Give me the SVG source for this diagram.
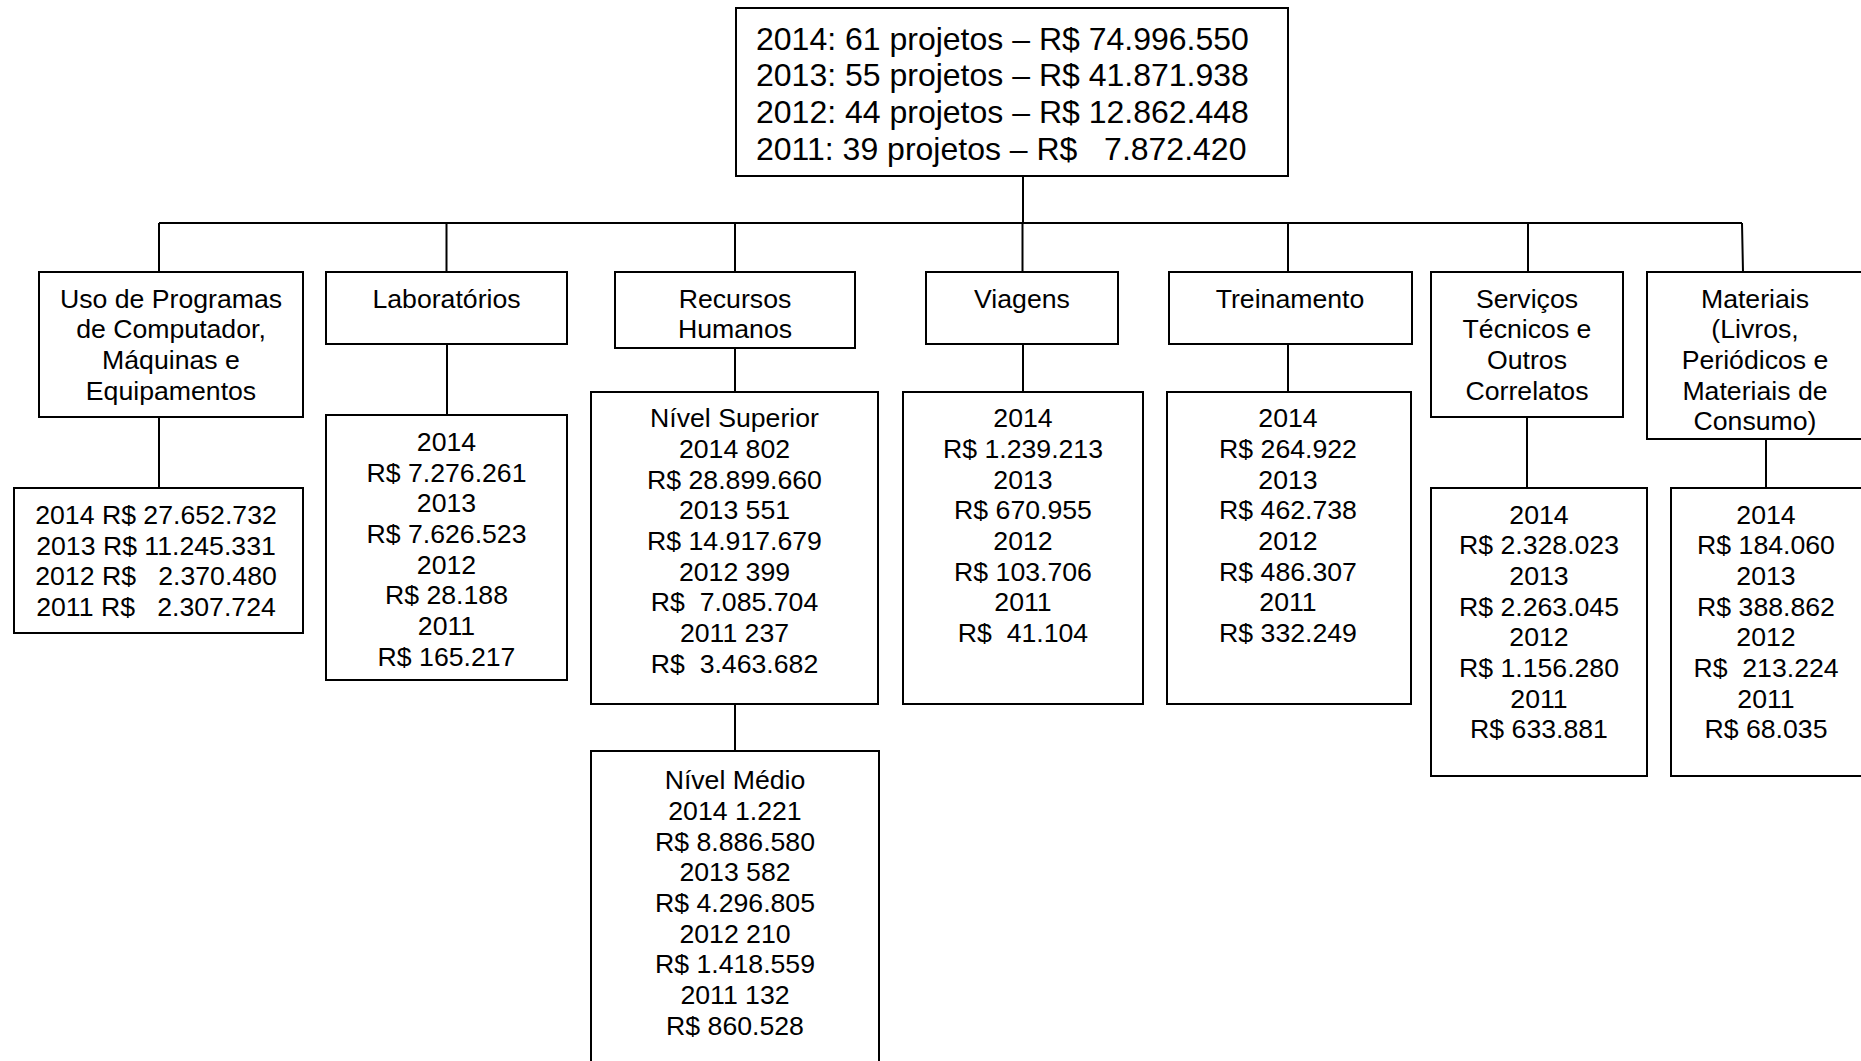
<svg xmlns="http://www.w3.org/2000/svg" width="1861" height="1061" viewBox="0 0 1861 1061">
<style>
.box{fill:#fff;stroke:#000;stroke-width:2}
.ln{stroke:#000;stroke-width:2;fill:none}
text{font-family:"Liberation Sans",Arial,sans-serif;fill:#000;white-space:pre}
.t{font-size:32px}
.s{font-size:26.67px;text-anchor:middle}
</style>
<rect width="1861" height="1061" fill="#fff"/>
<g id="connectors">
<path class="ln" d="M1023 176V223M159 223H1742M159 223V272M446.5 223V272M735 223V272M1022.5 223V272M1288 223V272M1528 223V272M1742 223L1743 272"/>
<path class="ln" d="M159 417V488M447 344V415M735 348V392M1023 344V392M1288 344V392M1527 417V488M1766 439V488M735 704V751"/>
</g>
<g id="root">
<rect class="box" x="736" y="8" width="552" height="168"/>
<text class="t" x="756" y="49.5">2014: 61 projetos – R$ 74.996.550</text>
<text class="t" x="756" y="86.3">2013: 55 projetos – R$ 41.871.938</text>
<text class="t" x="756" y="123.1">2012: 44 projetos – R$ 12.862.448</text>
<text class="t" x="756" y="159.9">2011: 39 projetos – R$   7.872.420</text>
</g>
<g id="uso">
<rect class="box" x="39" y="272" width="264" height="145"/>
<text class="s" x="171" y="307.5">Uso de Programas</text>
<text class="s" x="171" y="338.2">de Computador,</text>
<text class="s" x="171" y="368.8">Máquinas e</text>
<text class="s" x="171" y="399.5">Equipamentos</text>
</g>
<g id="uso-dados">
<rect class="box" x="14" y="488" width="289" height="145"/>
<text class="s" x="156" y="524">2014 R$ 27.652.732</text>
<text class="s" x="156" y="554.7">2013 R$ 11.245.331</text>
<text class="s" x="156" y="585.3">2012 R$   2.370.480</text>
<text class="s" x="156" y="616">2011 R$   2.307.724</text>
</g>
<g id="laboratorios">
<rect class="box" x="326" y="272" width="241" height="72"/>
<text class="s" x="446.5" y="307.5">Laboratórios</text>
</g>
<g id="laboratorios-dados">
<rect class="box" x="326" y="415" width="241" height="265"/>
<text class="s" x="446.5" y="451">2014</text>
<text class="s" x="446.5" y="481.7">R$ 7.276.261</text>
<text class="s" x="446.5" y="512.3">2013</text>
<text class="s" x="446.5" y="543">R$ 7.626.523</text>
<text class="s" x="446.5" y="573.7">2012</text>
<text class="s" x="446.5" y="604.3">R$ 28.188</text>
<text class="s" x="446.5" y="635">2011</text>
<text class="s" x="446.5" y="665.7">R$ 165.217</text>
</g>
<g id="recursos">
<rect class="box" x="615" y="272" width="240" height="76"/>
<text class="s" x="735" y="307.5">Recursos</text>
<text class="s" x="735" y="338.2">Humanos</text>
</g>
<g id="nivel-superior">
<rect class="box" x="591" y="392" width="287" height="312"/>
<text class="s" x="734.5" y="427.3">Nível Superior</text>
<text class="s" x="734.5" y="458">2014 802</text>
<text class="s" x="734.5" y="488.6">R$ 28.899.660</text>
<text class="s" x="734.5" y="519.3">2013 551</text>
<text class="s" x="734.5" y="550">R$ 14.917.679</text>
<text class="s" x="734.5" y="580.6">2012 399</text>
<text class="s" x="734.5" y="611.3">R$  7.085.704</text>
<text class="s" x="734.5" y="642">2011 237</text>
<text class="s" x="734.5" y="672.6">R$  3.463.682</text>
</g>
<g id="nivel-medio">
<rect class="box" x="591" y="751" width="288" height="320"/>
<text class="s" x="735" y="789.3">Nível Médio</text>
<text class="s" x="735" y="820">2014 1.221</text>
<text class="s" x="735" y="850.6">R$ 8.886.580</text>
<text class="s" x="735" y="881.3">2013 582</text>
<text class="s" x="735" y="912">R$ 4.296.805</text>
<text class="s" x="735" y="942.6">2012 210</text>
<text class="s" x="735" y="973.3">R$ 1.418.559</text>
<text class="s" x="735" y="1004">2011 132</text>
<text class="s" x="735" y="1034.6">R$ 860.528</text>
</g>
<g id="viagens">
<rect class="box" x="926" y="272" width="192" height="72"/>
<text class="s" x="1022" y="307.5">Viagens</text>
</g>
<g id="viagens-dados">
<rect class="box" x="903" y="392" width="240" height="312"/>
<text class="s" x="1023" y="427.3">2014</text>
<text class="s" x="1023" y="458">R$ 1.239.213</text>
<text class="s" x="1023" y="488.6">2013</text>
<text class="s" x="1023" y="519.3">R$ 670.955</text>
<text class="s" x="1023" y="550">2012</text>
<text class="s" x="1023" y="580.6">R$ 103.706</text>
<text class="s" x="1023" y="611.3">2011</text>
<text class="s" x="1023" y="642">R$  41.104</text>
</g>
<g id="treinamento">
<rect class="box" x="1169" y="272" width="243" height="72"/>
<text class="s" x="1290" y="307.5">Treinamento</text>
</g>
<g id="treinamento-dados">
<rect class="box" x="1167" y="392" width="244" height="312"/>
<text class="s" x="1288" y="427.3">2014</text>
<text class="s" x="1288" y="458">R$ 264.922</text>
<text class="s" x="1288" y="488.6">2013</text>
<text class="s" x="1288" y="519.3">R$ 462.738</text>
<text class="s" x="1288" y="550">2012</text>
<text class="s" x="1288" y="580.6">R$ 486.307</text>
<text class="s" x="1288" y="611.3">2011</text>
<text class="s" x="1288" y="642">R$ 332.249</text>
</g>
<g id="servicos">
<rect class="box" x="1431" y="272" width="192" height="145"/>
<text class="s" x="1527" y="307.5">Serviços</text>
<text class="s" x="1527" y="338.2">Técnicos e</text>
<text class="s" x="1527" y="368.8">Outros</text>
<text class="s" x="1527" y="399.5">Correlatos</text>
</g>
<g id="servicos-dados">
<rect class="box" x="1431" y="488" width="216" height="288"/>
<text class="s" x="1539" y="523.5">2014</text>
<text class="s" x="1539" y="554.2">R$ 2.328.023</text>
<text class="s" x="1539" y="584.8">2013</text>
<text class="s" x="1539" y="615.5">R$ 2.263.045</text>
<text class="s" x="1539" y="646.2">2012</text>
<text class="s" x="1539" y="676.8">R$ 1.156.280</text>
<text class="s" x="1539" y="707.5">2011</text>
<text class="s" x="1539" y="738.2">R$ 633.881</text>
</g>
<g id="materiais">
<rect class="box" x="1647" y="272" width="216" height="167"/>
<text class="s" x="1755" y="307.5">Materiais</text>
<text class="s" x="1755" y="338.2">(Livros,</text>
<text class="s" x="1755" y="368.8">Periódicos e</text>
<text class="s" x="1755" y="399.5">Materiais de</text>
<text class="s" x="1755" y="430.2">Consumo)</text>
</g>
<g id="materiais-dados">
<rect class="box" x="1671" y="488" width="192" height="288"/>
<text class="s" x="1766" y="523.5">2014</text>
<text class="s" x="1766" y="554.2">R$ 184.060</text>
<text class="s" x="1766" y="584.8">2013</text>
<text class="s" x="1766" y="615.5">R$ 388.862</text>
<text class="s" x="1766" y="646.2">2012</text>
<text class="s" x="1766" y="676.8">R$  213.224</text>
<text class="s" x="1766" y="707.5">2011</text>
<text class="s" x="1766" y="738.2">R$ 68.035</text>
</g>
</svg>
